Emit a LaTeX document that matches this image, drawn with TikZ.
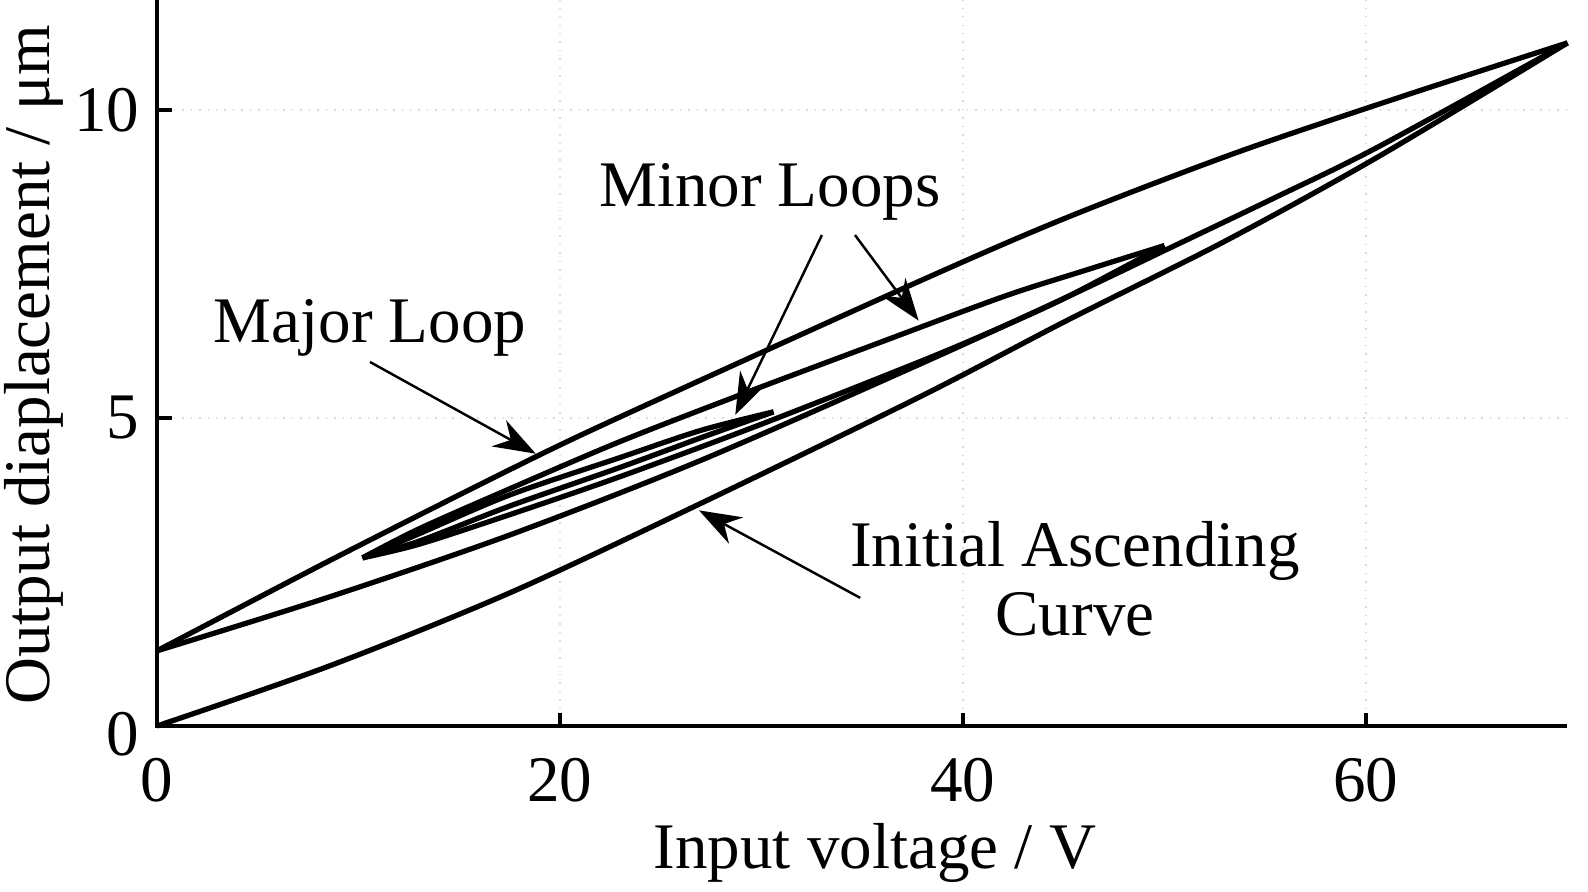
\documentclass[tikz,border=0pt]{standalone}
\usepackage{fontspec}
\setmainfont{Liberation Serif}
\usetikzlibrary{arrows.meta}
\def\initialcurve{plot[smooth] coordinates {(0,0) (8.6,0.98) (17.5,2.16) (26.9,3.6) (37.9,5.35) (45.2,6.59) (53,7.87) (60.6,9.24) (70,11.09)}}
\def\majordown{plot[smooth] coordinates {(70,11.09) (61.7,10.21) (53.5,9.3) (45.2,8.26) (37.9,7.23) (23,5.02) (17.5,4.16) (8.6,2.69) (0,1.22)}}
\def\majorup{plot[smooth] coordinates {(0,1.22) (8.6,2.1) (17.5,3.1) (26.9,4.3) (37.9,5.88) (45.2,6.97) (50.2,7.75) (55.5,8.58) (60.6,9.4) (70,11.09)}}
\def\minordown{plot[smooth] coordinates {(50,7.8) (46,7.39) (42,6.97) (35.5,6.18) (28.9,5.37) (23,4.62) (17.5,3.85) (13,3.2) (10.2,2.73)}}
\def\minorup{plot[smooth] coordinates {(10.2,2.73) (13,2.95) (17.5,3.43) (23,4.05) (30,4.9) (37.9,5.92) (41.8,6.46) (45.2,6.97) (50,7.8)}}
\def\innerup{plot[smooth] coordinates {(10.2,2.73) (13,3.0) (17.5,3.57) (23,4.2) (27,4.68) (30.6,5.1)}}
\def\innerdown{plot[smooth] coordinates {(30.6,5.1) (27,4.8) (23,4.36) (17.5,3.75) (13,3.12) (10.2,2.73)}}

\begin{document}
\begin{tikzpicture}[x=0.2015cm,y=0.616cm,
    hyst/.style={line width=1.5pt,line join=round},
    pointer/.style={line width=0.7pt,-{Stealth[length=12pt,width=8.5pt]}},
    lbl/.style={inner sep=0pt,font=\fontsize{18.5}{19.9}\selectfont}]
    \useasboundingbox (-7.79,-2.695) rectangle (71.02,11.786);
    \draw[black!15,dotted] (20,0) -- (20,11.786) (40,0) -- (40,11.786) (60,0) -- (60,11.786)
        (0,5) -- (70,5) (0,10) -- (70,10);
    \draw[line width=1.2pt] (0,11.786) -- (0,0) -- (70,0);
    \draw[line width=1.2pt] (0,5) -- ++(0.15cm,0) (0,10) -- ++(0.15cm,0)
        (20,0) -- ++(0,0.13cm) (40,0) -- ++(0,0.13cm) (60,0) -- ++(0,0.13cm);
    \node[lbl,anchor=east] (y0) at (-0.84,-0.14) {0};
    \node[lbl,anchor=east] (y5) at (-0.84,5) {5};
    \node[lbl,anchor=east] (y10) at (-0.84,10) {10};
    \node[lbl] (x0) at (0,-0.88) {0};
    \node[lbl] (x20) at (20,-0.88) {20};
    \node[lbl] (x40) at (40,-0.88) {40};
    \node[lbl] (x60) at (60,-0.88) {60};
    \node[lbl,anchor=base] (xlabel) at (35.63,-2.32) {Input voltage / V};
    \node[lbl,anchor=base,rotate=90] (ylabel) at (-5.31,5.86) {Output diaplacement / μm};

    \draw[hyst] \initialcurve;
    \draw[hyst] \majordown;
    \draw[hyst] \majorup;
    \draw[hyst] \minordown;
    \draw[hyst] \minorup;
    \draw[hyst] \innerup;
    \draw[hyst] \innerdown;

    \node[lbl,anchor=base] (major) at (10.57,6.22) {Major Loop};
    \node[lbl,anchor=base] (minor) at (30.42,8.43) {Minor Loops};
    \node[lbl,align=center] (initial) at (45.56,2.39) {Initial Ascending\\Curve};
    \coordinate (majortail) at (10.57,5.91);
    \coordinate (majortip) at (18.8,4.42);
    \coordinate (minortailA) at (33.0,7.97);
    \coordinate (minortipA) at (28.7,5.05);
    \coordinate (minortailB) at (34.64,7.97);
    \coordinate (minortipB) at (37.8,6.58);
    \coordinate (initialtail) at (34.9,2.08);
    \coordinate (initialtip) at (26.9,3.5);
    \draw[pointer] (majortail) -- (majortip);
    \draw[pointer] (minortailA) -- (minortipA);
    \draw[pointer] (minortailB) -- (minortipB);
    \draw[pointer] (initialtail) -- (initialtip);
\end{tikzpicture}
\end{document}
